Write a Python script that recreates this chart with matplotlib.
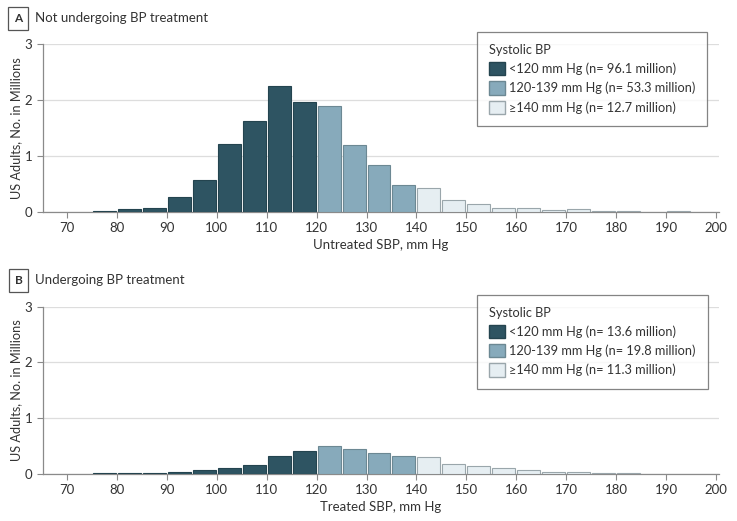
import matplotlib
matplotlib.use('Agg')
import matplotlib.pyplot as plt
from matplotlib.patches import Patch

plt.rcParams['font.family'] = ['Lato', 'DejaVu Sans']

# bin left edges (mm Hg), 5 mm Hg bins
bin_left = [75, 80, 85, 90, 95, 100, 105, 110, 115, 120, 125, 130, 135,
            140, 145, 150, 155, 160, 165, 170, 175, 180, 185, 190, 195]

untreated = [0.02, 0.05, 0.08, 0.27, 0.57, 1.22, 1.62, 2.25, 1.97, 1.90,
             1.19, 0.84, 0.48, 0.43, 0.21, 0.14, 0.08, 0.08, 0.04, 0.05,
             0.02, 0.02, 0.0, 0.02, 0.0]

treated = [0.02, 0.02, 0.02, 0.04, 0.07, 0.11, 0.17, 0.32, 0.41, 0.50,
           0.45, 0.38, 0.32, 0.30, 0.18, 0.14, 0.11, 0.07, 0.04, 0.04,
           0.02, 0.02, 0.0, 0.0, 0.0]

legend_untreated = ['<120 mm Hg (n= 96.1 million)',
                    '120-139 mm Hg (n= 53.3 million)',
                    '\u2265140 mm Hg (n= 12.7 million)']
legend_treated = ['<120 mm Hg (n= 13.6 million)',
                  '120-139 mm Hg (n= 19.8 million)',
                  '\u2265140 mm Hg (n= 11.3 million)']

dark = '#2e5462'
mid = '#87aabb'
light = '#e6eef2'
edge_dark = '#24444f'
edge_mid = '#6c8893'
edge_light = '#9aa6ab'
text_col = '#333333'
spine_col = '#8a8a8a'


def bar_colors(x):
    if x < 120:
        return dark, edge_dark
    elif x < 140:
        return mid, edge_mid
    return light, edge_light


def draw_panel(ax, values, xlabel, labels):
    for x, v in zip(bin_left, values):
        if v <= 0:
            continue
        fc, ec = bar_colors(x)
        ax.bar(x + 0.2, v, width=4.6, align='edge', color=fc,
               edgecolor=ec, linewidth=0.8, zorder=3)
    ax.set_xlim(65.2, 200.6)
    ax.set_ylim(0, 3)
    ax.set_xticks(range(70, 201, 10))
    ax.set_yticks([0, 1, 2, 3])
    ax.yaxis.grid(True, color='#dddddd', linewidth=0.9, zorder=0)
    for s in ['top', 'right']:
        ax.spines[s].set_visible(False)
    for s in ['left', 'bottom']:
        ax.spines[s].set_color(spine_col)
        ax.spines[s].set_linewidth(0.9)
    ax.tick_params(axis='both', colors=spine_col, labelcolor=text_col,
                   labelsize=9.5, length=4, width=0.8)
    ax.set_xlabel(xlabel, fontsize=9.5, color=text_col, labelpad=3)
    ax.set_ylabel('US Adults, No. in Millions', fontsize=9.2,
                  color=text_col, labelpad=2)
    handles = [Patch(facecolor=dark, edgecolor=edge_dark),
               Patch(facecolor=mid, edgecolor=edge_mid),
               Patch(facecolor=light, edgecolor=edge_light)]
    leg = ax.legend(handles, labels, title='Systolic BP', loc='upper left',
                    bbox_to_anchor=(0.642, 1.071), fontsize=9.2,
                    title_fontsize=9.2, frameon=True, fancybox=False,
                    handlelength=1.25, handleheight=1.25, handletextpad=0.3,
                    labelspacing=0.45, borderpad=0.95, borderaxespad=0)
    leg._legend_box.align = 'left'
    leg.get_title().set_color(text_col)
    for t in leg.get_texts():
        t.set_color(text_col)
    leg.get_frame().set_edgecolor('#666666')
    leg.get_frame().set_linewidth(0.9)


fig = plt.figure(figsize=(7.37, 5.21), dpi=100)
ax1 = fig.add_axes([0.0583, 0.5931, 0.9173, 0.3224])
ax2 = fig.add_axes([0.0583, 0.0902, 0.9173, 0.3211])

draw_panel(ax1, untreated, 'Untreated SBP, mm Hg', legend_untreated)
draw_panel(ax2, treated, 'Treated SBP, mm Hg', legend_treated)

# panel labels
for ypos, letter, title in [(0.965, 'A', 'Not undergoing BP treatment'),
                            (0.462, 'B', 'Undergoing BP treatment')]:
    fig.text(0.0250, ypos, letter, fontsize=8.5, fontweight='bold',
             color=text_col, ha='center', va='center',
             bbox=dict(boxstyle='square,pad=0.5', facecolor='white',
                       edgecolor='#555555', linewidth=0.9))
    fig.text(0.048, ypos, title, fontsize=9.5, color=text_col,
             ha='left', va='center')

fig.savefig('out.png', dpi=100)
